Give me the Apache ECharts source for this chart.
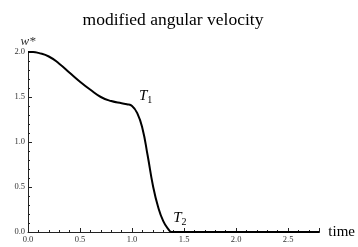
<!DOCTYPE html>
<html>
<head>
    <meta charset="utf-8">
    <title>modified angular velocity</title>
    <script src="https://cdn.jsdelivr.net/npm/echarts@6/dist/echarts.min.js"></script>
    <style>
        html, body { margin: 0; padding: 0; background: #fff; }
    </style>
</head>
<body>
    <div id="chart" style="width: 358px;height: 247px;"></div>
</body>

<script>
    // curve
    var timeVals = [0, 0.05, 0.1, 0.2, 0.3, 0.4, 0.5, 0.6, 0.7, 0.8, 0.9, 0.95, 1.0, 1.05, 1.1, 1.15, 1.2, 1.25, 1.3, 1.35, 1.38, 1.5, 2.0, 2.5, 2.8];
    var wVals = [2.0, 2.0, 1.99, 1.95, 1.87, 1.77, 1.67, 1.58, 1.5, 1.455, 1.43, 1.42, 1.4, 1.32, 1.15, 0.85, 0.52, 0.28, 0.12, 0.03, 0, 0, 0, 0, 0];
    var xTicks = [0, 0.5, 1.0, 1.5, 2.0, 2.5];
    var yTicks = [0, 0.5, 1.0, 1.5, 2.0];

    var points = timeVals.map(function (t, i) { return [t, wVals[i]]; });
    var serif = '"Liberation Serif", "DejaVu Serif", serif';

    var tickLabel = {
        fontFamily: serif,
        fontSize: 8.5,
        color: '#333',
        formatter: function (v) { return v.toFixed(1); }
    };

    var option = {
        animation: false,
        title: {
            text: 'modified angular velocity',
            left: 168,
            textAlign: 'center',
            top: 6,
            textStyle: { fontFamily: serif, fontSize: 17.5, fontWeight: 'normal', color: '#000' }
        },
        grid: { left: 28, top: 52, width: 292, height: 180 },
        xAxis: {
            type: 'value',
            min: 0,
            max: 2.8,
            interval: 0.5,
            name: 'time',
            nameLocation: 'end',
            nameGap: 9,
            nameTextStyle: { fontFamily: serif, fontSize: 15, color: '#000', verticalAlign: 'middle' },
            axisLine: { lineStyle: { color: '#222', width: 1 } },
            axisTick: { inside: true, length: 4, lineStyle: { color: '#222' } },
            minorTick: { show: true, splitNumber: 5, length: 2, lineStyle: { color: '#222' } },
            axisLabel: Object.assign({ margin: 3, showMaxLabel: false }, tickLabel),
            splitLine: { show: false }
        },
        yAxis: {
            type: 'value',
            min: 0,
            max: 2,
            interval: 0.5,
            name: 'w*',
            nameLocation: 'end',
            nameGap: 4,
            nameTextStyle: { fontFamily: serif, fontSize: 13, fontStyle: 'italic', color: '#333', align: 'center' },
            axisLine: { show: true, lineStyle: { color: '#222', width: 1 } },
            axisTick: { show: true, inside: true, length: 4, lineStyle: { color: '#222' } },
            minorTick: { show: true, splitNumber: 5, length: 2, lineStyle: { color: '#222' } },
            axisLabel: Object.assign({ margin: 3 }, tickLabel),
            splitLine: { show: false }
        },
        series: [{
            type: 'line',
            data: points,
            smooth: 0.5,
            showSymbol: false,
            lineStyle: { color: '#000', width: 2 },
            markPoint: {
                symbolSize: 0,
                label: {
                    show: true,
                    formatter: function (p) { return '{a|T}{b|' + p.name + '}'; },
                    rich: {
                        a: { fontFamily: serif, fontStyle: 'italic', fontSize: 15, color: '#000' },
                        b: { fontFamily: serif, fontSize: 10, color: '#000', padding: [8, 0, 0, 0] }
                    }
                },
                data: [
                    { name: '1', coord: [1.13, 1.51] },
                    { name: '2', coord: [1.46, 0.155] }
                ]
            }
        }]
    };

    var myChart = echarts.init(document.getElementById('chart'));
    myChart.setOption(option);
</script>
</html>
